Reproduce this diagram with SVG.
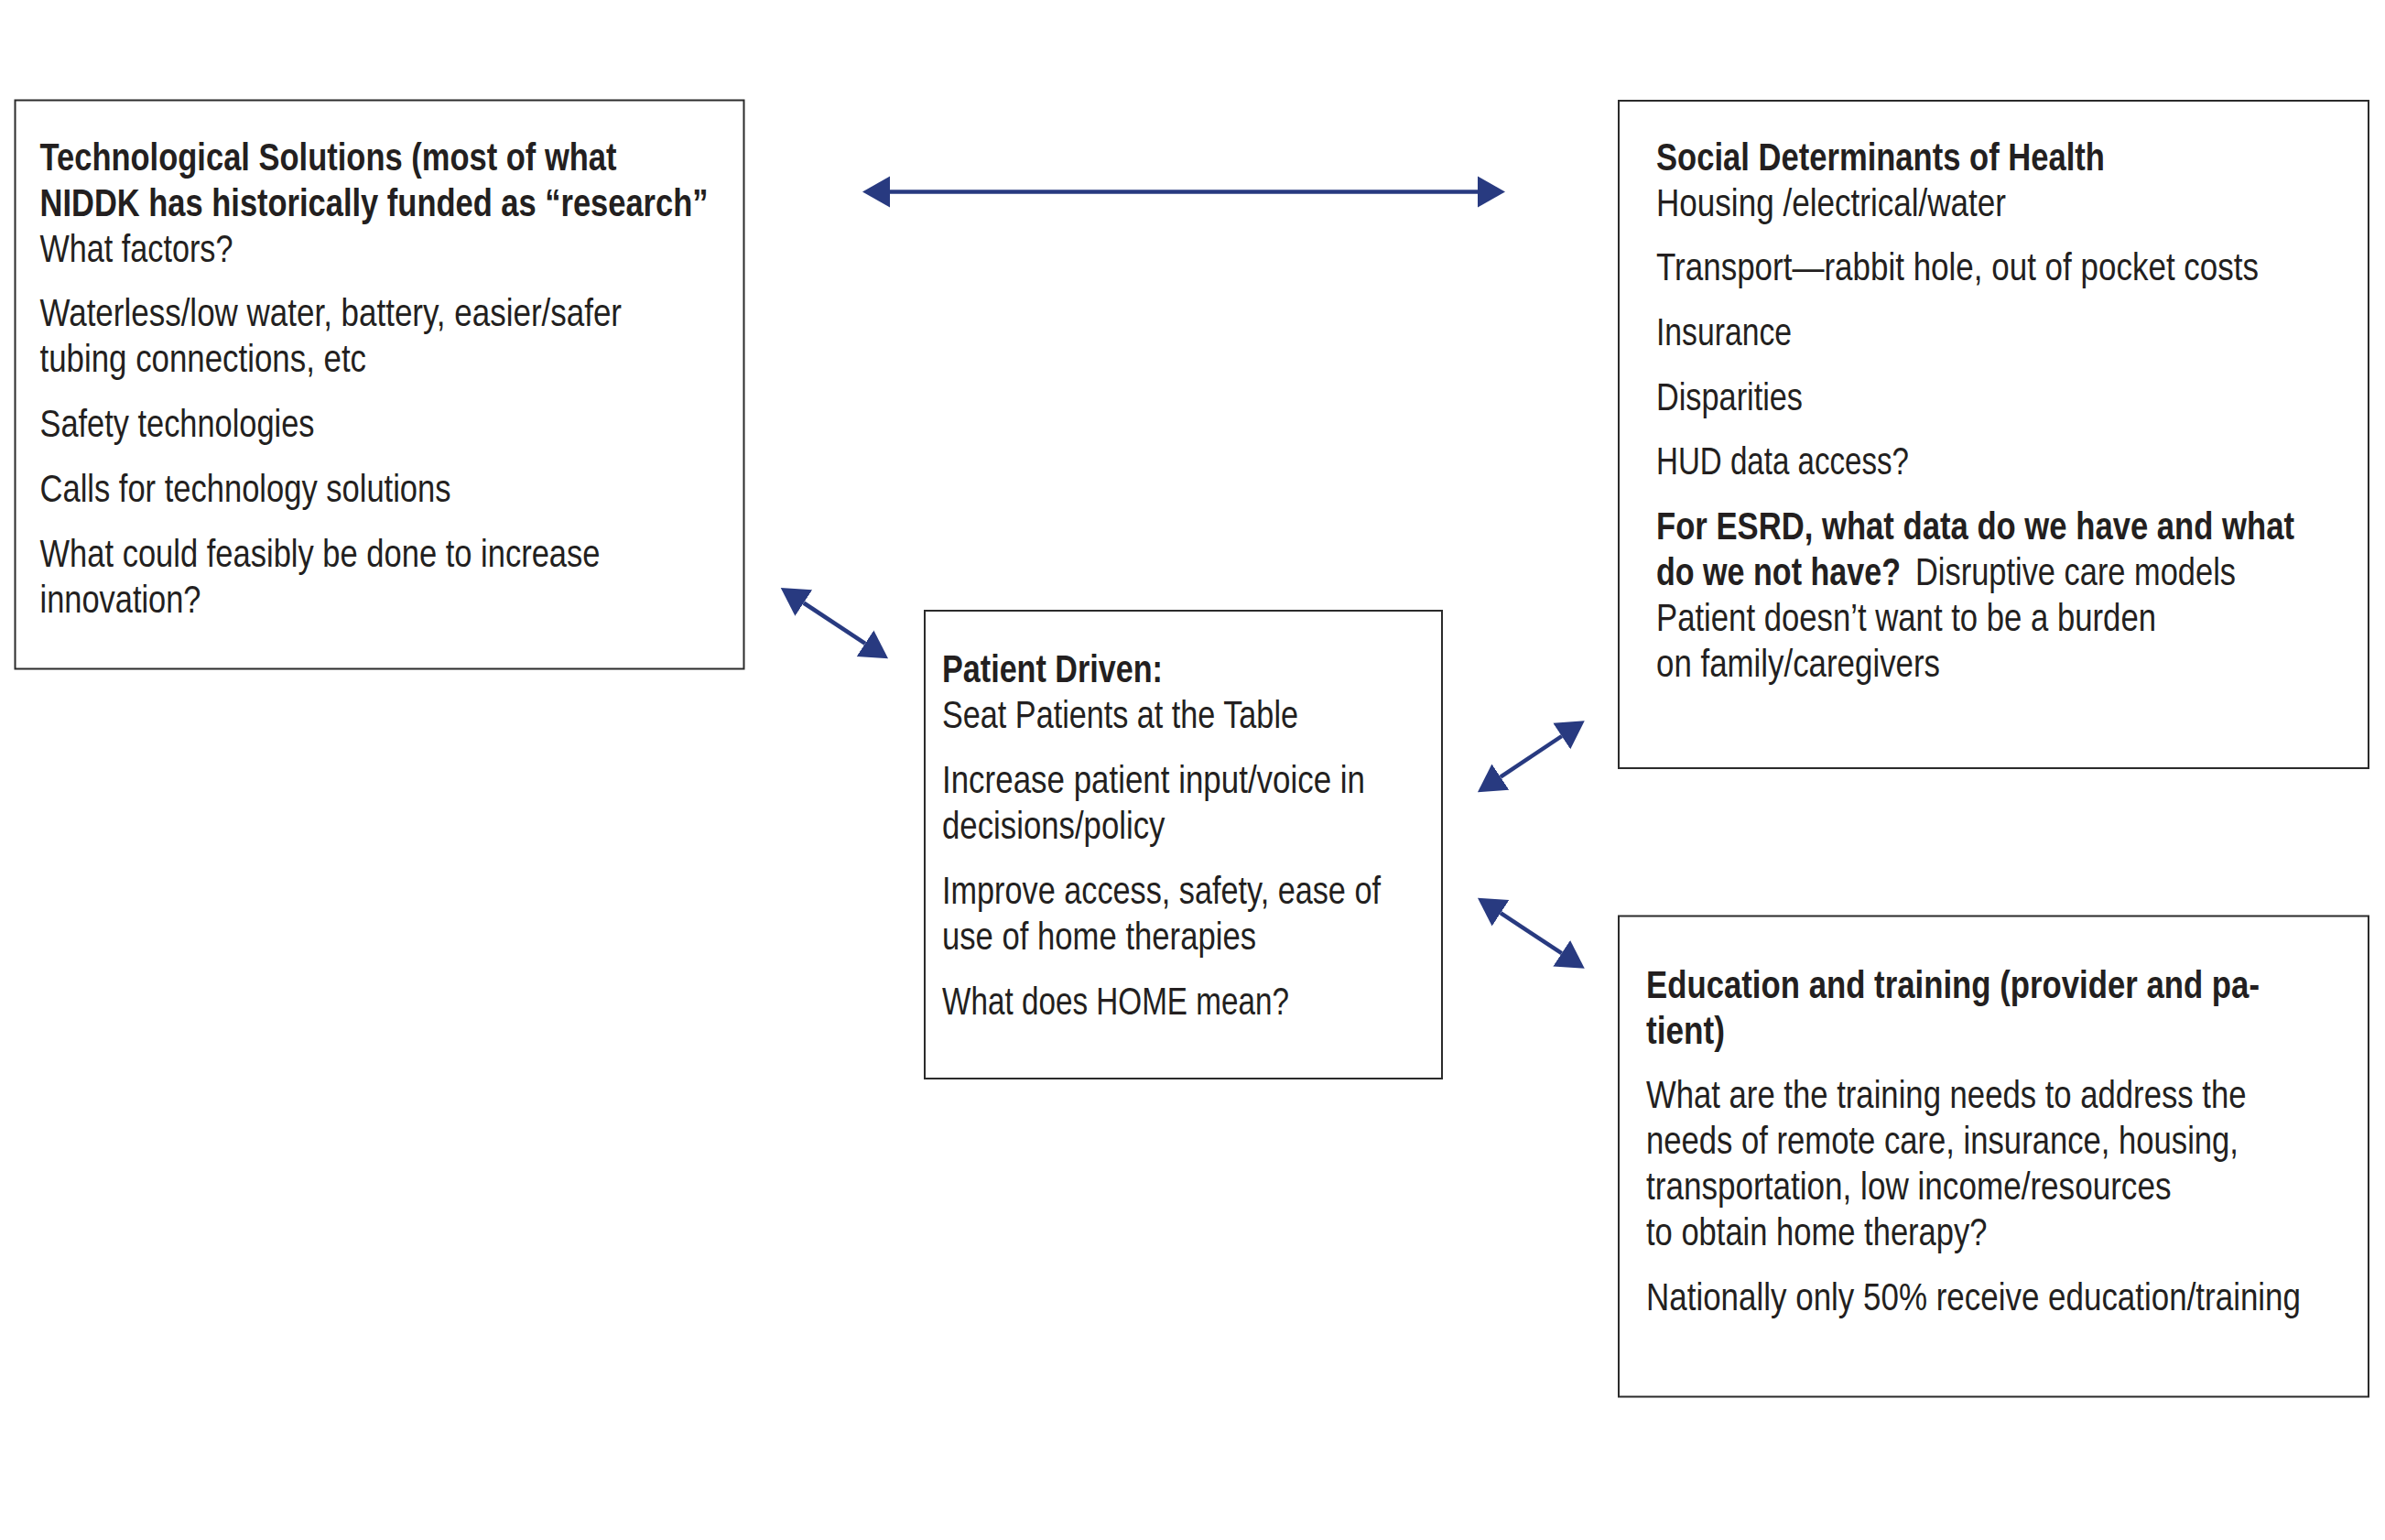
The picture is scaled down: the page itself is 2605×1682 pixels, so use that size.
<svg xmlns="http://www.w3.org/2000/svg" width="2605" height="1682" viewBox="0 0 2605 1682">
<style>
.box{fill:#ffffff;stroke:#2b2b2b;stroke-width:2}
text{font-family:"Liberation Sans",Arial,sans-serif;font-size:42px;fill:#231f20}
.b{font-weight:bold}
.conn{stroke:#283a80;stroke-width:4.5;fill:none}
</style>
<defs>
<marker id="ah" markerUnits="userSpaceOnUse" markerWidth="32" markerHeight="36" viewBox="0 -18 32 36" refX="0" refY="0" orient="auto-start-reverse">
<path d="M0,-17 L30,0 L0,17 Z" fill="#283a80"/>
</marker>
</defs>
<rect width="2605" height="1682" fill="#ffffff"/>

<g id="connectors">
<line class="conn" x1="972" y1="209.5" x2="1614" y2="209.5" marker-start="url(#ah)" marker-end="url(#ah)"/>
<line class="conn" x1="877.8" y1="658.5" x2="945" y2="702.8" marker-start="url(#ah)" marker-end="url(#ah)"/>
<line class="conn" x1="1638.9" y1="848.6" x2="1705.8" y2="804" marker-start="url(#ah)" marker-end="url(#ah)"/>
<line class="conn" x1="1639" y1="997.2" x2="1705.7" y2="1041.2" marker-start="url(#ah)" marker-end="url(#ah)"/>
</g>

<g id="tech">
<rect class="box" x="16.5" y="109.5" width="796" height="621"/>
<text class="b" x="43.5" y="186" textLength="630" lengthAdjust="spacingAndGlyphs">Technological Solutions (most of what</text>
<text class="b" x="43.5" y="236" textLength="730" lengthAdjust="spacingAndGlyphs">NIDDK has historically funded as “research”</text>
<text x="43.5" y="286" textLength="211" lengthAdjust="spacingAndGlyphs">What factors?</text>
<text x="43.5" y="356" textLength="635.5" lengthAdjust="spacingAndGlyphs">Waterless/low water, battery, easier/safer</text>
<text x="43.5" y="406" textLength="356.5" lengthAdjust="spacingAndGlyphs">tubing connections, etc</text>
<text x="43.5" y="477" textLength="300" lengthAdjust="spacingAndGlyphs">Safety technologies</text>
<text x="43.5" y="548" textLength="449" lengthAdjust="spacingAndGlyphs">Calls for technology solutions</text>
<text x="43.5" y="619" textLength="612" lengthAdjust="spacingAndGlyphs">What could feasibly be done to increase</text>
<text x="43.5" y="669" textLength="176" lengthAdjust="spacingAndGlyphs">innovation?</text>
</g>

<g id="social">
<rect class="box" x="1768" y="110" width="819" height="729"/>
<text class="b" x="1809" y="186" textLength="490" lengthAdjust="spacingAndGlyphs">Social Determinants of Health</text>
<text x="1809" y="236" textLength="382" lengthAdjust="spacingAndGlyphs">Housing /electrical/water</text>
<text x="1809" y="306" textLength="658" lengthAdjust="spacingAndGlyphs">Transport—rabbit hole, out of pocket costs</text>
<text x="1809" y="377" textLength="148" lengthAdjust="spacingAndGlyphs">Insurance</text>
<text x="1809" y="448" textLength="160" lengthAdjust="spacingAndGlyphs">Disparities</text>
<text x="1809" y="518" textLength="276" lengthAdjust="spacingAndGlyphs">HUD data access?</text>
<text class="b" x="1809" y="589" textLength="697" lengthAdjust="spacingAndGlyphs">For ESRD, what data do we have and what</text>
<text class="b" x="1809" y="639" textLength="267" lengthAdjust="spacingAndGlyphs">do we not have?</text>
<text x="2092" y="639" textLength="350" lengthAdjust="spacingAndGlyphs">Disruptive care models</text>
<text x="1809" y="689" textLength="546" lengthAdjust="spacingAndGlyphs">Patient doesn’t want to be a burden</text>
<text x="1809" y="739" textLength="310" lengthAdjust="spacingAndGlyphs">on family/caregivers</text>
</g>

<g id="patient">
<rect class="box" x="1010" y="667" width="565" height="511"/>
<text class="b" x="1029" y="745" textLength="241" lengthAdjust="spacingAndGlyphs">Patient Driven:</text>
<text x="1029" y="795" textLength="389" lengthAdjust="spacingAndGlyphs">Seat Patients at the Table</text>
<text x="1029" y="866" textLength="462" lengthAdjust="spacingAndGlyphs">Increase patient input/voice in</text>
<text x="1029" y="916" textLength="243.5" lengthAdjust="spacingAndGlyphs">decisions/policy</text>
<text x="1029" y="987" textLength="479" lengthAdjust="spacingAndGlyphs">Improve access, safety, ease of</text>
<text x="1029" y="1037" textLength="343" lengthAdjust="spacingAndGlyphs">use of home therapies</text>
<text x="1029" y="1108" textLength="379" lengthAdjust="spacingAndGlyphs">What does HOME mean?</text>
</g>

<g id="education">
<rect class="box" x="1768" y="1000.5" width="819" height="525"/>
<text class="b" x="1798" y="1090" textLength="670" lengthAdjust="spacingAndGlyphs">Education and training (provider and pa-</text>
<text class="b" x="1798" y="1140" textLength="86" lengthAdjust="spacingAndGlyphs">tient)</text>
<text x="1798" y="1210" textLength="655.5" lengthAdjust="spacingAndGlyphs">What are the training needs to address the</text>
<text x="1798" y="1260" textLength="647" lengthAdjust="spacingAndGlyphs">needs of remote care, insurance, housing,</text>
<text x="1798" y="1310" textLength="573.5" lengthAdjust="spacingAndGlyphs">transportation, low income/resources</text>
<text x="1798" y="1360" textLength="372.5" lengthAdjust="spacingAndGlyphs">to obtain home therapy?</text>
<text x="1798" y="1431" textLength="715" lengthAdjust="spacingAndGlyphs">Nationally only 50% receive education/training</text>
</g>
</svg>
